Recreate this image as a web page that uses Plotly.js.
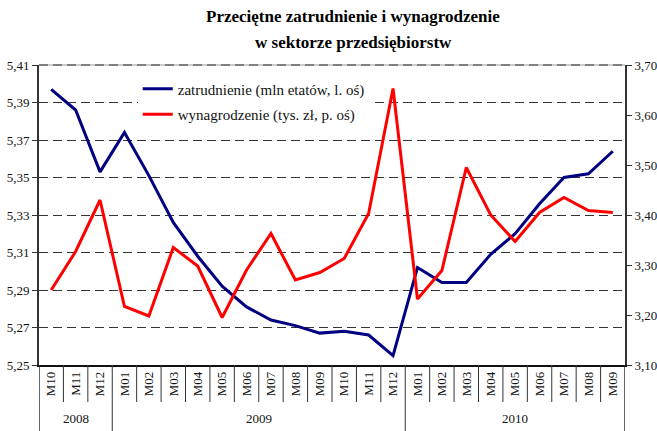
<!DOCTYPE html>
<html>
<head>
<meta charset="utf-8">
<script src="https://cdn.plot.ly/plotly-3.0.1.min.js"></script>
<style>
  html, body { margin: 0; padding: 0; background: #fff; }
  #chart { width: 657px; height: 431px; }
</style>
</head>
<body>
<div id="chart"></div>
<script>
(function(){
  // ---------- Data ----------
  const years  = ['2008','2008','2008',
                  '2009','2009','2009','2009','2009','2009','2009','2009','2009','2009','2009','2009',
                  '2010','2010','2010','2010','2010','2010','2010','2010','2010'];
  const months = ['M10','M11','M12',
                  'M01','M02','M03','M04','M05','M06','M07','M08','M09','M10','M11','M12',
                  'M01','M02','M03','M04','M05','M06','M07','M08','M09'];
  // zatrudnienie, mln etatów (lewa oś)
  const employment = [5.397, 5.386, 5.353,
                      5.374, 5.351, 5.326, 5.308, 5.292, 5.281, 5.274, 5.271, 5.267, 5.268, 5.266, 5.255,
                      5.302, 5.294, 5.294, 5.309, 5.320, 5.336, 5.350, 5.352, 5.364];
  // wynagrodzenie, tys. zł (prawa oś)
  const wages = [3.250, 3.327, 3.430,
                 3.217, 3.198, 3.335, 3.298, 3.195, 3.290, 3.363, 3.270, 3.285, 3.313, 3.403, 3.653,
                 3.232, 3.289, 3.495, 3.400, 3.347, 3.405, 3.435, 3.409, 3.405];
  const yearLabels = ['2008', '2009', '2010'];
  const titleLines = ['Przeciętne zatrudnienie i wynagrodzenie', 'w sektorze przedsiębiorstw'];

  const names = ['zatrudnienie (mln etatów, l. oś)', 'wynagrodzenie (tys. zł, p. oś)'];
  const colors = ['#000080', '#ff0000'];
  const serif = 'Liberation Serif, Times New Roman, serif';

  // unique category keys, shown as month labels
  const cats = months.map((m, i) => years[i] + '-' + m);

  // ---------- Traces ----------
  const traces = [
    { x: cats, y: employment, type: 'scatter', mode: 'lines', name: names[0],
      line: { color: colors[0], width: 3 }, yaxis: 'y', legendgroup: 'a' },
    { x: cats, y: wages, type: 'scatter', mode: 'lines', name: names[1],
      line: { color: colors[1], width: 3 }, yaxis: 'y2', legendgroup: 'b' }
  ];

  // ---------- Separators below the x axis ----------
  const shapes = [];
  const lblDepth = -37 / 300, fullDepth = -66 / 300;
  for (let i = 0; i < cats.length - 1; i++) {
    const newYear = years[i] !== years[i + 1];
    shapes.push({ type: 'line', xref: 'x', yref: 'paper', x0: i + 0.5, x1: i + 0.5,
      y0: 0, y1: newYear ? fullDepth : lblDepth, line: { color: '#333', width: 1 } });
  }
  [-0.5, cats.length - 0.5].forEach(xv => shapes.push({ type: 'line', xref: 'x', yref: 'paper',
    x0: xv, x1: xv, y0: 0, y1: fullDepth, line: { color: '#333', width: 1.5 } }));
  // top edge: grey rule under a dashed grid line
  shapes.push({ type: 'line', xref: 'paper', yref: 'paper', x0: 0, x1: 1, y0: 1, y1: 1,
    line: { color: '#999', width: 1 }, layer: 'below' });
  shapes.push({ type: 'line', xref: 'paper', yref: 'paper', x0: 0, x1: 1, y0: 1, y1: 1,
    line: { color: '#333', width: 1, dash: '9px,5px' }, layer: 'below' });

  // year labels centred under their months
  const annotations = yearLabels.map(yr => {
    const idx = years.map((y, i) => y === yr ? i : -1).filter(i => i >= 0);
    const mid = (idx[0] + idx[idx.length - 1]) / 2;
    return { text: yr, xref: 'x', yref: 'paper', x: mid, y: -53 / 300, showarrow: false,
      xanchor: 'center', yanchor: 'middle', font: { family: serif, size: 13, color: '#111' } };
  });
  // two-line title
  titleLines.forEach((t, i) => annotations.push({
    text: '<b>' + t + '</b>', xref: 'paper', yref: 'paper', x: 0.536, y: (365 - (16 + 26 * i)) / 300,
    showarrow: false, xanchor: 'center', yanchor: 'middle',
    font: { family: serif, size: 17, color: '#000' }
  }));

  // ---------- Layout ----------
  const layout = {
    width: 657, height: 431,
    margin: { l: 39, r: 32, t: 65, b: 66 },
    paper_bgcolor: '#fff', plot_bgcolor: '#fff',
    separators: ', ',
    font: { family: serif, size: 13, color: '#111' },
    showlegend: true,
    legend: {
      x: 0.1685, y: 0.975, xanchor: 'left', yanchor: 'top',
      bgcolor: '#fff', borderwidth: 0,
      font: { family: serif, size: 15, color: '#111' },
      traceorder: 'grouped', tracegroupgap: 3
    },
    xaxis: {
      type: 'category', range: [-0.5, cats.length - 0.5],
      tickvals: cats, ticktext: months, tickangle: -90,
      ticks: '', showgrid: false, zeroline: false,
      showline: true, linecolor: '#111', linewidth: 1.5,
      tickfont: { family: serif, size: 13, color: '#111' }
    },
    yaxis: {
      range: [5.25, 5.41], tick0: 5.25, dtick: 0.02, tickformat: '.2f',
      ticks: 'outside', ticklen: 5, tickcolor: '#333',
      showline: true, linecolor: '#333', linewidth: 2,
      showgrid: true, gridcolor: '#333', gridwidth: 1, griddash: '9px,5px',
      zeroline: false,
      tickfont: { family: serif, size: 13, color: '#111' }
    },
    yaxis2: {
      overlaying: 'y', side: 'right',
      range: [3.1, 3.7], tick0: 3.1, dtick: 0.1, tickformat: '.2f',
      ticks: 'outside', ticklen: 5, tickcolor: '#333',
      showline: true, linecolor: '#333', linewidth: 2,
      showgrid: false, zeroline: false,
      tickfont: { family: serif, size: 13, color: '#111' }
    },
    shapes: shapes,
    annotations: annotations
  };

  Plotly.newPlot('chart', traces, layout, { displayModeBar: false, staticPlot: true });
})();
</script>
</body>
</html>
